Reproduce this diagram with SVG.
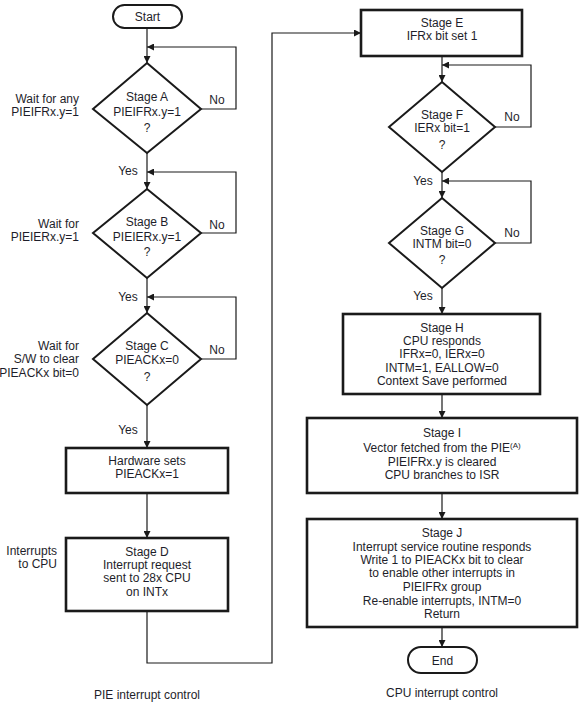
<svg xmlns="http://www.w3.org/2000/svg" width="584" height="706" viewBox="0 0 584 706">
<defs>
<marker id="ah" viewBox="0 0 10 10" refX="10" refY="5" markerWidth="7" markerHeight="7" markerUnits="userSpaceOnUse" orient="auto">
<path d="M0,0 L10,5 L0,10 z" fill="#1a1a1a"/>
</marker>
<style>
text{font-family:"Liberation Sans",Arial,sans-serif;font-size:12px;fill:#1e1e2a;text-anchor:middle}
.r{text-anchor:end}
.box{fill:#fff;stroke:#1a1a1a;stroke-width:2.6}
.dia{fill:#fff;stroke:#1a1a1a;stroke-width:2}
.term{fill:#fff;stroke:#1a1a1a;stroke-width:2}
.c{fill:none;stroke:#1a1a1a;stroke-width:1.2;marker-end:url(#ah)}
.l{fill:none;stroke:#1a1a1a;stroke-width:1.2}
</style>
</defs>
<rect width="584" height="706" fill="#fff"/>
<g id="connectors">
<path class="c" d="M147,28 V63"/>
<path class="c" d="M201,109 H236 V47 H147"/>
<path class="c" d="M147,153 V189"/>
<path class="c" d="M201,233 H236 V172 H147"/>
<path class="c" d="M147,278 V313"/>
<path class="c" d="M201,359 H236 V297 H147"/>
<path class="c" d="M147,405 V448"/>
<path class="c" d="M147,493 V538"/>
<path class="c" d="M147,611 V663 H272 V33 H361"/>
<path class="c" d="M442,56 V82"/>
<path class="c" d="M495,127 H531 V65 H442"/>
<path class="c" d="M442,172 V198"/>
<path class="c" d="M495,243 H531 V181 H442"/>
<path class="c" d="M442,288 V314"/>
<path class="c" d="M442,394 V418"/>
<path class="c" d="M442,493 V519"/>
<path class="c" d="M442,627 V647"/>
</g>
<g id="start">
<rect class="term" x="113" y="5" width="69" height="23" rx="11.5"/>
<text x="147.5" y="21">Start</text>
</g>
<g id="stageA">
<path class="dia" d="M147,63 L201,109 L147,153 L93,109 Z"/>
<text x="147" y="101">Stage A</text>
<text x="147" y="116">PIEIFRx.y=1</text>
<text x="147" y="132">?</text>
</g>
<g id="stageB">
<path class="dia" d="M147,189 L201,233 L147,278 L93,233 Z"/>
<text x="147" y="226">Stage B</text>
<text x="147" y="241">PIEIERx.y=1</text>
<text x="147" y="256">?</text>
</g>
<g id="stageC">
<path class="dia" d="M147,313 L201,359 L147,405 L93,359 Z"/>
<text x="147" y="350">Stage C</text>
<text x="147" y="364">PIEACKx=0</text>
<text x="147" y="381">?</text>
</g>
<g id="hwsets">
<rect class="box" x="66" y="448" width="162" height="45"/>
<text x="147" y="465">Hardware sets</text>
<text x="147" y="478">PIEACKx=1</text>
</g>
<g id="stageD">
<rect class="box" x="66" y="538" width="162" height="73"/>
<text x="147" y="556">Stage D</text>
<text x="147" y="569">Interrupt request</text>
<text x="147" y="582">sent to 28x CPU</text>
<text x="147" y="596">on INTx</text>
</g>
<g id="stageE">
<rect class="box" x="361" y="10" width="161" height="46"/>
<text x="442" y="27">Stage E</text>
<text x="442" y="40">IFRx bit set 1</text>
</g>
<g id="stageF">
<path class="dia" d="M442,82 L495,127 L442,172 L389,127 Z"/>
<text x="442" y="119">Stage F</text>
<text x="442" y="132">IERx bit=1</text>
<text x="442" y="149">?</text>
</g>
<g id="stageG">
<path class="dia" d="M442,198 L495,243 L442,288 L389,243 Z"/>
<text x="442" y="235">Stage G</text>
<text x="442" y="248">INTM bit=0</text>
<text x="442" y="264">?</text>
</g>
<g id="stageH">
<rect class="box" x="343" y="314" width="197" height="80"/>
<text x="442" y="332">Stage H</text>
<text x="442" y="345">CPU responds</text>
<text x="442" y="358">IFRx=0, IERx=0</text>
<text x="442" y="372">INTM=1, EALLOW=0</text>
<text x="442" y="385">Context Save performed</text>
</g>
<g id="stageI">
<rect class="box" x="307" y="418" width="270" height="75"/>
<text x="442" y="437">Stage I</text>
<text x="442" y="452">Vector fetched from the PIE<tspan font-size="8" dy="-4">(A)</tspan></text>
<text x="442" y="466">PIEIFRx.y is cleared</text>
<text x="442" y="479">CPU branches to ISR</text>
</g>
<g id="stageJ">
<rect class="box" x="307" y="519" width="270" height="108"/>
<text x="442" y="537">Stage J</text>
<text x="442" y="551">Interrupt service routine responds</text>
<text x="442" y="564">Write 1 to PIEACKx bit to clear</text>
<text x="442" y="577">to enable other interrupts in</text>
<text x="442" y="591">PIEIFRx group</text>
<text x="442" y="605">Re-enable interrupts, INTM=0</text>
<text x="442" y="618">Return</text>
</g>
<g id="end">
<rect class="term" x="408" y="647" width="69" height="26" rx="13"/>
<text x="442.5" y="665">End</text>
</g>
<g id="labels">
<text x="217" y="104">No</text>
<text x="217" y="229">No</text>
<text x="217" y="354">No</text>
<text x="512" y="121">No</text>
<text x="512" y="237">No</text>
<text x="128" y="175">Yes</text>
<text x="128" y="301">Yes</text>
<text x="128" y="434">Yes</text>
<text x="423" y="185">Yes</text>
<text x="423" y="300">Yes</text>
<text class="r" x="79" y="103">Wait for any</text>
<text class="r" x="79" y="116">PIEIFRx.y=1</text>
<text class="r" x="79" y="228">Wait for</text>
<text class="r" x="79" y="241">PIEIERx.y=1</text>
<text class="r" x="79" y="350">Wait for</text>
<text class="r" x="79" y="363">S/W to clear</text>
<text class="r" x="79" y="377">PIEACKx bit=0</text>
<text class="r" x="57" y="555">Interrupts</text>
<text class="r" x="57" y="568">to CPU</text>
<text x="147" y="699">PIE interrupt control</text>
<text x="442" y="697">CPU interrupt control</text>
</g>
</svg>
